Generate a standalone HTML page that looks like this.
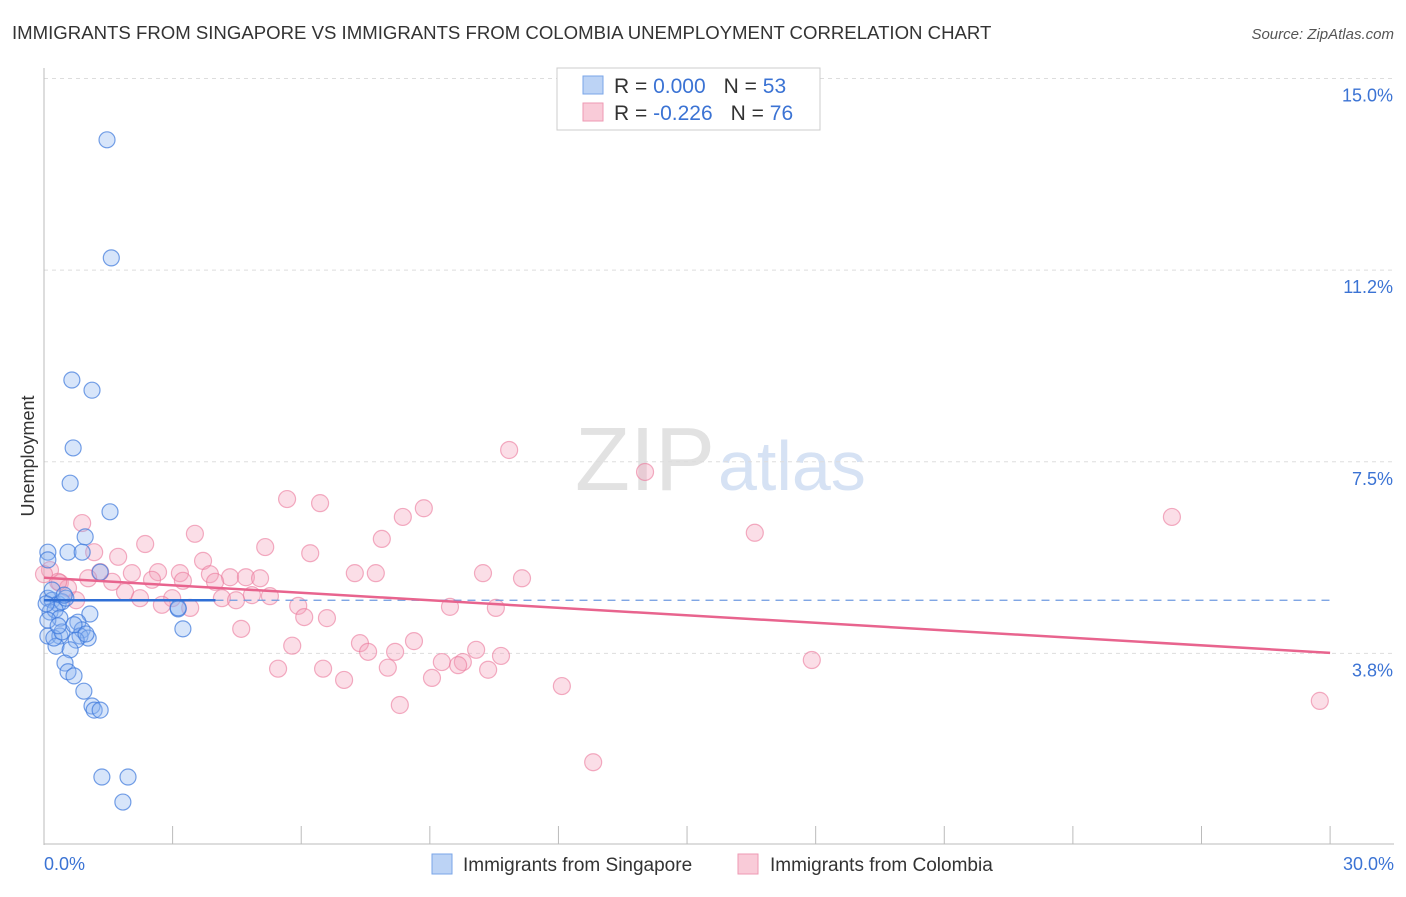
<!DOCTYPE html>
<html><head><meta charset="utf-8"><style>
body{margin:0;background:#fff;font-family:"Liberation Sans",sans-serif}
svg text{font-family:"Liberation Sans",sans-serif}
</style></head><body>
<svg id="chart" width="1406" height="892">
<text x="12" y="39" font-size="18.6" fill="#333">IMMIGRANTS FROM SINGAPORE VS IMMIGRANTS FROM COLOMBIA UNEMPLOYMENT CORRELATION CHART</text>
<text x="1394" y="39" font-size="15" fill="#555" text-anchor="end" font-style="italic">Source: ZipAtlas.com</text>
<text x="715" y="490" font-size="90" fill="#e2e2e2" text-anchor="end" font-family="Liberation Serif">ZIP</text>
<text x="718" y="490" font-size="70" fill="#d6e2f4">atlas</text>
<g id="grid"></g><g id="axes"></g><g id="pts"></g><g id="lines"></g>
<text transform="translate(34,456) rotate(-90)" font-size="18" fill="#333" text-anchor="middle">Unemployment</text>
<g>
<rect x="557" y="68" width="263" height="62" fill="#fff" stroke="#ccc"/>
<rect x="583" y="76" width="20" height="18" fill="#bcd3f5" stroke="#7aa6e8"/>
<rect x="583" y="103" width="20" height="18" fill="#f9cbd8" stroke="#ee9ab3"/>
<text x="614" y="93" font-size="21" fill="#333">R = <tspan fill="#3b73d4">0.000</tspan><tspan dx="18">N = </tspan><tspan fill="#3b73d4">53</tspan></text>
<text x="614" y="120" font-size="21" fill="#333">R = <tspan fill="#3b73d4">-0.226</tspan><tspan dx="18">N = </tspan><tspan fill="#3b73d4">76</tspan></text>
</g>
<g>
<rect x="432" y="854" width="20" height="20" fill="#bcd3f5" stroke="#7aa6e8"/>
<text x="463" y="871" font-size="19" fill="#333">Immigrants from Singapore</text>
<rect x="738" y="854" width="20" height="20" fill="#f9cbd8" stroke="#ee9ab3"/>
<text x="770" y="871" font-size="19" fill="#333">Immigrants from Colombia</text>
</g>
</svg>
<script>
const yTicks=[15,11.25,7.5,3.75];
const yTickLabels=["15.0%","11.2%","7.5%","3.8%"];
const xTickLabels=["0.0%","30.0%"];
const blueX=[1.47,1.57,0.65,1.12,0.68,0.61,1.54,0.96,0.09,0.56,0.89,0.09,1.31,0.09,0.19,0.33,0.42,0.51,0.14,0.26,1.07,0.37,0.79,0.89,0.09,0.37,0.84,1.03,0.75,0.28,0.61,3.24,3.13,0.49,0.56,0.70,0.93,1.12,1.17,1.31,1.35,1.96,1.84,0.19,0.47,0.23,0.42,0.05,0.09,0.70,0.98,3.13,0.33];
const blueY=[13.80,11.49,9.10,8.90,7.77,7.08,6.52,6.03,5.73,5.73,5.73,5.58,5.34,4.83,4.79,4.72,4.76,4.83,4.56,4.60,4.52,4.44,4.36,4.21,4.09,4.09,4.09,4.05,4.01,3.89,3.82,4.23,4.62,3.56,3.39,3.31,3.01,2.72,2.64,2.64,1.33,1.33,0.84,4.99,4.89,4.05,4.17,4.72,4.40,4.31,4.13,4.64,4.29];
const pinkX=[10.85,14.02,26.31,16.58,5.67,6.44,8.86,8.37,0.89,3.52,7.88,2.36,5.16,6.21,1.17,1.73,3.71,0.14,1.31,2.05,2.66,3.17,3.87,4.34,4.71,5.04,7.25,7.74,10.24,11.15,0.37,1.03,1.59,2.52,3.24,3.99,0.56,1.89,2.24,2.99,4.15,4.48,4.85,5.27,2.75,3.41,5.93,6.07,6.60,9.47,10.54,4.60,5.79,7.37,8.63,7.56,8.19,10.08,10.66,9.28,9.77,9.66,5.46,6.51,8.02,10.36,7.00,9.05,12.08,17.91,8.30,29.76,12.81,0.33,0.75,0.00];
const pinkY=[7.73,7.30,6.42,6.11,6.77,6.69,6.59,6.42,6.30,6.09,5.99,5.89,5.83,5.71,5.73,5.64,5.56,5.38,5.34,5.32,5.34,5.32,5.30,5.24,5.24,5.22,5.32,5.32,5.32,5.22,5.13,5.22,5.15,5.19,5.17,5.15,5.03,4.95,4.83,4.83,4.83,4.79,4.89,4.87,4.70,4.64,4.68,4.46,4.44,4.66,4.64,4.23,3.90,3.95,3.99,3.78,3.78,3.82,3.70,3.58,3.58,3.52,3.45,3.45,3.47,3.43,3.23,3.27,3.11,3.62,2.74,2.82,1.62,5.15,4.79,5.30];
const blueTrend=[0,4.79,4,4.79];
const pinkTrend=[0,5.23,30,3.76];
const ns="http://www.w3.org/2000/svg";
const X=v=>44+v*42.87, Y=v=>845-v*51.1;
function mk(t,a,p){const e=document.createElementNS(ns,t);for(const k in a)e.setAttribute(k,a[k]);p.appendChild(e);return e;}
const grid=document.getElementById('grid'),axes=document.getElementById('axes'),pts=document.getElementById('pts'),lines=document.getElementById('lines');
yTicks.forEach((v,i)=>{
 const l=mk('line',{x1:44,x2:1394,y1:Y(v),y2:Y(v),stroke:'#ddd','stroke-dasharray':'4,4'},grid);
 
 
 const t=mk('text',{x:1393,y:Y(v)+23,'font-size':18,fill:'#3b73d4','text-anchor':'end'},axes);t.textContent=yTickLabels[i];
 
 
});
const ax=mk('line',{x1:44,x2:44,y1:68,y2:845,stroke:'#bbb'},axes);


const bx=mk('line',{x1:44,x2:1394,y1:844,y2:844,stroke:'#bbb'},axes);


for(let i=0;i<=10;i++){const t=mk('line',{x1:X(i*3),x2:X(i*3),y1:826,y2:844,stroke:'#bbb'},axes);
 
 }
[[0,'start',44],[1,'end',1394]].forEach(([i,a,x])=>{const t=mk('text',{x:x,y:870,'font-size':18,fill:'#3b73d4','text-anchor':a},axes);t.textContent=xTickLabels[i];
 
 });
pinkX.forEach((v,i)=>{const c=mk('circle',{cx:X(v),cy:Y(pinkY[i]),r:8.5,fill:'rgba(244,160,185,0.35)',stroke:'rgba(235,120,155,0.6)','stroke-width':1.2},pts);
 
 });
blueX.forEach((v,i)=>{const c=mk('circle',{cx:X(v),cy:Y(blueY[i]),r:8,fill:'rgba(140,180,240,0.35)',stroke:'rgba(60,120,220,0.7)','stroke-width':1.2},pts);
 
 });
const bl=mk('line',{x1:X(blueTrend[0]),y1:Y(blueTrend[1]),x2:X(blueTrend[2]),y2:Y(blueTrend[3]),stroke:'#2f6fd6','stroke-width':2.5},lines);


const bd=mk('line',{x1:X(blueTrend[2]),y1:Y(blueTrend[3]),x2:X(30),y2:Y(blueTrend[3]),stroke:'#6f9ae0','stroke-width':1.3,'stroke-dasharray':'8,6'},lines);


const pl=mk('line',{x1:X(pinkTrend[0]),y1:Y(pinkTrend[1]),x2:X(pinkTrend[2]),y2:Y(pinkTrend[3]),stroke:'#e8648e','stroke-width':2.5},lines);


</script>
</body></html>
